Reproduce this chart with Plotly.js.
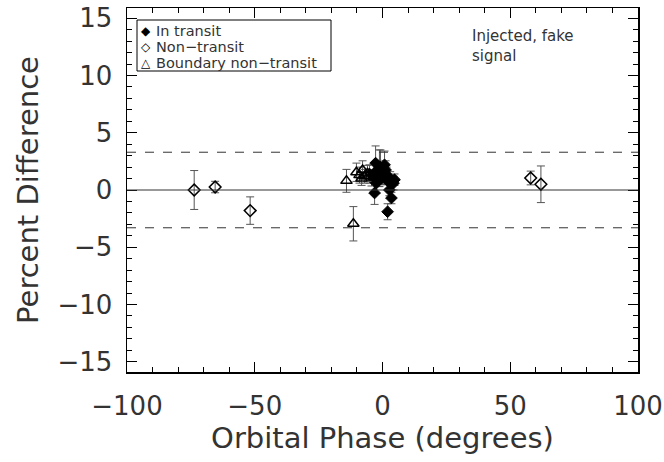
<!DOCTYPE html>
<html><head><meta charset="utf-8">
<script src="https://cdn.plot.ly/plotly-3.0.1.min.js"></script>
<style>html,body{margin:0;padding:0;background:#fff;}#chart{width:664px;height:462px;}</style>
</head><body><div id="chart"></div>
<script>
// In transit (filled diamonds)
var inPhase = [-2.7, -1.2, 0.8, -3.1, -1.6, 0.4, -2.4, -3.1, 2.4, 4.3, 2.7, 3.5, 2.0, 4.7, -4.3, -0.4, 1.6, -5.1, 1.2, -0.8, 0.0, -2.0, 3.0];
var inDiff  = [2.35, 1.9, 2.2, 1.5, 1.1, 1.5, 0.6, -0.26, 0.7, 0.6, 0.0, -0.7, -1.9, 0.9, 1.05, 1.05, 1.3, 1.4, 1.75, 2.0, 1.2, 1.7, 1.0];
var inErr   = [1.5, 1.6, 1.2, 0.8, 0.8, 0.7, 0.9, 1.0, 0.6, 0.6, 0.5, 0.5, 0.7, 0.5, 0.7, 0.6, 0.7, 0.8, 0.8, 1.5, 0.7, 0.9, 0.6];
// Non-transit (open diamonds)
var nonPhase = [-73.7, -65.5, -51.8, 58.0, 62.0];
var nonDiff  = [0.0, 0.26, -1.8, 1.05, 0.5];
var nonErr   = [1.7, 0.5, 1.2, 0.6, 1.6];
// Boundary non-transit (open triangles)
var bndPhase = [-14.1, -11.4, -10.2, -9.0, -7.8, -7.0, -5.9, -8.2];
var bndDiff  = [0.8, -2.95, 1.55, 1.3, 1.75, 1.2, 1.45, 1.0];
var bndErr   = [1.0, 1.5, 0.8, 0.7, 0.8, 0.6, 0.7, 0.6];
var limit = 3.3;
var legendLabels = ['In transit', 'Non\u2212transit', 'Boundary non\u2212transit'];
var legendSymbols = ['\u25C6', '\u25C7', '\u25B3'];

var errStyle = function(arr){ return {type:'data', array:arr, visible:true, color:'#555', thickness:1, width:4}; };
var traces = [
  {x:inPhase, y:inDiff, error_y:errStyle(inErr), mode:'markers', type:'scatter', name:legendLabels[0], showlegend:false,
   marker:{symbol:'diamond', size:9, color:'#000', line:{color:'#000', width:1}}},
  {x:nonPhase, y:nonDiff, error_y:errStyle(nonErr), mode:'markers', type:'scatter', name:legendLabels[1], showlegend:false,
   marker:{symbol:'diamond-open', size:9, color:'#000', line:{color:'#000', width:1.5}}},
  {x:bndPhase, y:bndDiff, error_y:errStyle(bndErr), mode:'markers', type:'scatter', name:legendLabels[2], showlegend:false,
   marker:{symbol:'triangle-up-open', size:10, color:'#000', line:{color:'#000', width:1.5}}}
];
var fontFam = 'DejaVu Sans, sans-serif';
var txtCol = '#333';
var L = 127, R = 26, T = 8, B = 90, W = 664, H = 462;
var pw = W - L - R, ph = H - T - B;
function px(x){ return (x - L) / pw; }
function py(y){ return (H - B - y) / ph; }

var annotations = [
  {xref:'paper', yref:'paper', x:px(470), y:py(25), xanchor:'left', yanchor:'top', align:'left', showarrow:false,
   text:'Injected, fake<br>signal', font:{family:fontFam, size:15, color:txtCol}}
];
var legendY = [31, 47, 63];
for (var i = 0; i < 3; i++) {
  annotations.push({xref:'paper', yref:'paper', x:px(146), y:py(legendY[i]), xanchor:'center', yanchor:'middle', showarrow:false,
    text:legendSymbols[i], font:{family:fontFam, size:12, color:'#000'}});
  annotations.push({xref:'paper', yref:'paper', x:px(154), y:py(legendY[i]), xanchor:'left', yanchor:'middle', showarrow:false,
    text:legendLabels[i], font:{family:fontFam, size:14.5, color:txtCol}});
}

var layout = {
  width:W, height:H,
  margin:{l:L, r:R, t:T, b:B},
  paper_bgcolor:'#fff', plot_bgcolor:'#fff',
  showlegend:false,
  xaxis:{range:[-100,100], tickvals:[-100,-50,0,50,100], ticktext:['\u2212100','\u221250','0','50','100'],
         ticks:'inside', ticklen:10, tickcolor:'#000', showline:true, linecolor:'#000', linewidth:1.5, mirror:'allticks',
         showgrid:false, zeroline:false, ticklabelstandoff:10,
         minor:{dtick:10, ticks:'inside', ticklen:5, tickcolor:'#000', showgrid:false},
         tickfont:{family:fontFam, size:26, color:txtCol},
         title:{text:'Orbital Phase (degrees)', font:{family:fontFam, size:29, color:txtCol}, standoff:6}},
  yaxis:{range:[-15.9,15.9], tickvals:[-15,-10,-5,0,5,10,15], ticktext:['\u221215','\u221210','\u22125','0','5','10','15'],
         ticks:'inside', ticklen:10, tickcolor:'#000', showline:true, linecolor:'#000', linewidth:1.5, mirror:'allticks',
         showgrid:false, zeroline:false, ticklabelstandoff:8,
         minor:{dtick:1, ticks:'inside', ticklen:5, tickcolor:'#000', showgrid:false},
         tickfont:{family:fontFam, size:26, color:txtCol},
         title:{text:'Percent Difference', font:{family:fontFam, size:29, color:txtCol}, standoff:10}},
  shapes:[
    {type:'line', xref:'paper', x0:0, x1:1, yref:'y', y0:0, y1:0, line:{color:'#333', width:1}},
    {type:'line', xref:'paper', x0:0, x1:1, yref:'y', y0:limit, y1:limit, line:{color:'#333', width:1, dash:'dash'}},
    {type:'line', xref:'paper', x0:0, x1:1, yref:'y', y0:-limit, y1:-limit, line:{color:'#333', width:1, dash:'dash'}},
    {type:'rect', xref:'paper', yref:'paper', x0:px(137), x1:px(331), y0:py(71), y1:py(20), line:{color:'#000', width:1}, fillcolor:'#fff', layer:'above'}
  ],
  annotations:annotations
};
Plotly.newPlot('chart', traces, layout, {displayModeBar:false, staticPlot:true});
</script></body></html>
